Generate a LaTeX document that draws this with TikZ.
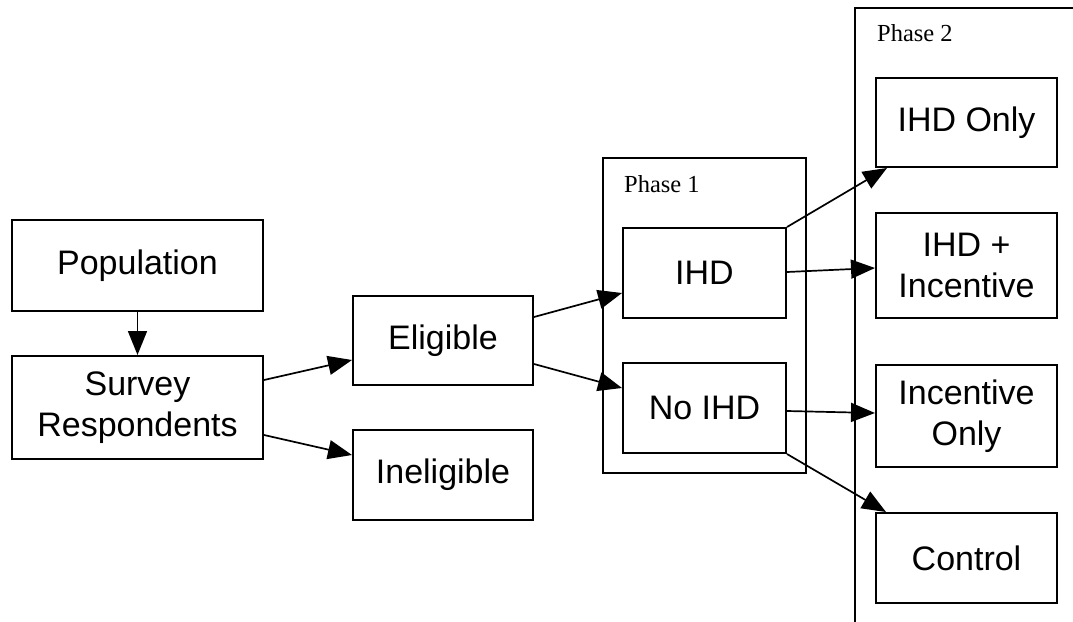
\documentclass[tikz,border=0pt]{standalone}
\usepackage{fontspec}
\setmainfont{Liberation Sans}
\newfontfamily\clusterfont{Liberation Serif}
\usetikzlibrary{arrows.meta}
\begin{document}
\begin{tikzpicture}[x=1pt,y=-1pt,
  box/.style={draw,line width=2pt,inner sep=0pt,align=center,
    font=\fontsize{34}{41}\selectfont},
  cluster/.style={draw,line width=2pt,inner sep=0pt},
  clabel/.style={anchor=base west,inner sep=0pt,font=\clusterfont\fontsize{24.5}{28}\selectfont},
  edge/.style={line width=1.7pt,-{Triangle[length=24pt,width=19pt]}}]
\clip (0,0) rectangle (1073,621);
% clusters
\node[cluster,minimum width=203pt,minimum height=315pt] (p1) at (704.5,315.5) {};
\node[clabel] (p1l) at (624,192) {Phase 1};
\node[cluster,minimum width=235pt,minimum height=632pt] (p2) at (972.5,324) {};
\node[clabel] (p2l) at (877,41) {Phase 2};
% nodes
\node[box,minimum width=251pt,minimum height=91pt] (pop) at (137.5,265.5) {Population};
\node[box,minimum width=251pt,minimum height=103pt] (surv) at (137.5,407.5) {Survey\\Respondents};
\node[box,minimum width=180pt,minimum height=89pt] (elig) at (443,340.5) {Eligible};
\node[box,minimum width=180pt,minimum height=90pt] (inelig) at (443,475) {Ineligible};
\node[box,minimum width=163pt,minimum height=90pt] (ihd) at (704.5,273) {IHD};
\node[box,minimum width=163pt,minimum height=90pt] (noihd) at (704.5,408) {No IHD};
\node[box,minimum width=181pt,minimum height=89pt] (ihdonly) at (966.5,122.5) {IHD Only};
\node[box,minimum width=181pt,minimum height=105pt] (ihdinc) at (966.5,265.5) {IHD +\\Incentive};
\node[box,minimum width=181pt,minimum height=102pt] (inconly) at (966.5,416) {Incentive\\Only};
\node[box,minimum width=181pt,minimum height=90pt] (control) at (966.5,558) {Control};
% edges
\draw[edge] (pop.south) -- (surv.north);
\draw[edge] ([yshift=27.5pt]surv.east) -- ([yshift=-19.5pt]elig.west);
\draw[edge] ([yshift=-27.5pt]surv.east) -- ([yshift=20pt]inelig.west);
\draw[edge] ([yshift=23.5pt]elig.east) -- ([yshift=-20pt]ihd.west);
\draw[edge] ([yshift=-23.5pt]elig.east) -- ([yshift=20pt]noihd.west);
\draw[edge] (ihd.north east) -- ([xshift=12pt]ihdonly.south west);
\draw[edge] ([yshift=1pt]ihd.east) -- ([yshift=-2.5pt]ihdinc.west);
\draw[edge] ([yshift=-3pt]noihd.east) -- ([yshift=3pt]inconly.west);
\draw[edge] (noihd.south east) -- ([xshift=11pt]control.north west);
\end{tikzpicture}
\end{document}
